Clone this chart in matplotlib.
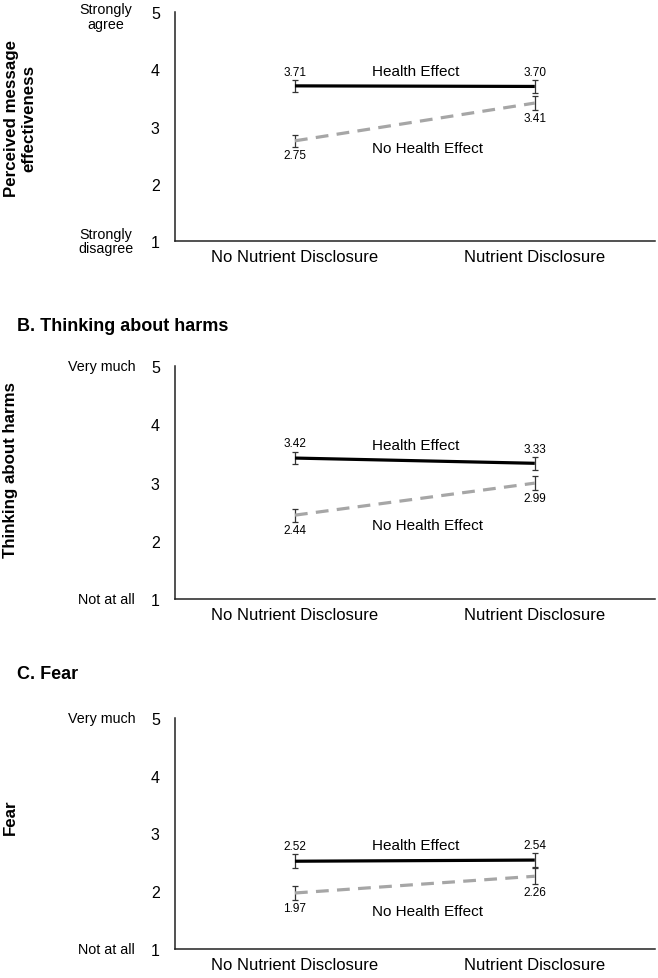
import matplotlib.pyplot as plt
from matplotlib.transforms import blended_transform_factory

plt.rcParams['font.family'] = ['Liberation Sans', 'DejaVu Sans']

categories = ["No Nutrient Disclosure", "Nutrient Disclosure"]
series_names = ["Health Effect", "No Health Effect"]

panel_titles = ["", "B. Thinking about harms", "C. Fear"]
y_labels = ["Perceived message\neffectiveness", "Thinking about harms", "Fear"]
top_anchors = ["Strongly\nagree", "Very much", "Very much"]
bottom_anchors = ["Strongly\ndisagree", "Not at all", "Not at all"]
y_ticks = [1, 2, 3, 4, 5]

health = [[3.71, 3.70], [3.42, 3.33], [2.52, 2.54]]
health_err = [[0.10, 0.11], [0.11, 0.11], [0.12, 0.115]]
no_health = [[2.75, 3.41], [2.44, 2.99], [1.97, 2.26]]
no_health_err = [[0.11, 0.12], [0.11, 0.12], [0.115, 0.135]]

# axes boxes in figure fractions (left, bottom, width, height)
boxes = [
    (0.266, 0.7528, 0.729, 0.2339),
    (0.266, 0.3871, 0.729, 0.2380),
    (0.266, 0.0296, 0.729, 0.2360),
]
ylabel_pos = [(-0.29, 0.54), (-0.327, 0.56), (-0.327, 0.575)]
title_y = [None, 0.666, 0.311]

fig = plt.figure(figsize=(6.58, 9.79), dpi=100)

for i in range(3):
    ax = fig.add_axes(boxes[i])
    x = [0, 1]

    ax.errorbar(x, health[i], yerr=health_err[i], fmt='none', ecolor='#333333',
                elinewidth=0.9, capsize=2.3, capthick=0.9, zorder=2)
    ax.errorbar(x, no_health[i], yerr=no_health_err[i], fmt='none', ecolor='#333333',
                elinewidth=0.9, capsize=2.3, capthick=0.9, zorder=2)
    ax.plot(x, health[i], color='black', lw=2.3, solid_capstyle='butt', zorder=3)
    ax.plot(x, no_health[i], color='#a6a6a6', lw=2.3, dashes=(4, 2.6), zorder=3)

    for j in range(2):
        ax.text(x[j], health[i][j] + health_err[i][j] + 0.04, f"{health[i][j]:.2f}",
                ha='center', va='bottom', fontsize=8.5)
        ax.text(x[j], no_health[i][j] - no_health_err[i][j] - 0.04, f"{no_health[i][j]:.2f}",
                ha='center', va='top', fontsize=8.5)

    ax.text(0.32, sum(health[i]) / 2 + 0.27, series_names[0], ha='left', va='center', fontsize=11)
    ax.text(0.32, sum(no_health[i]) / 2 - 0.45, series_names[1], ha='left', va='center', fontsize=11)

    ax.set_xlim(-0.5, 1.5)
    ax.set_ylim(1, 5)
    ax.set_xticks(x)
    ax.set_xticklabels(categories, fontsize=12)
    ax.set_yticks(y_ticks)
    ax.set_yticklabels([str(t) for t in y_ticks], fontsize=11.5)
    ax.tick_params(axis='both', length=0)
    ax.tick_params(axis='y', pad=11)
    ax.tick_params(axis='x', pad=6)
    for s in ['top', 'right']:
        ax.spines[s].set_visible(False)
    for s in ['left', 'bottom']:
        ax.spines[s].set_linewidth(1.1)
        ax.spines[s].set_color('#222222')

    trans = blended_transform_factory(ax.transAxes, ax.transData)
    if i == 0:
        ax.text(-0.144, 4.92, top_anchors[i], transform=trans, ha='center', va='center',
                fontsize=10.3, multialignment='center', linespacing=1.05)
        ax.text(-0.144, 1, bottom_anchors[i], transform=trans, ha='center', va='center',
                fontsize=10.3, multialignment='center', linespacing=1.05)
    else:
        ax.text(-0.083, 5, top_anchors[i], transform=trans, ha='right', va='center', fontsize=10.3)
        ax.text(-0.083, 1, bottom_anchors[i], transform=trans, ha='right', va='center', fontsize=10.3)

    ax.set_ylabel(y_labels[i], fontsize=12.2, fontweight='bold', linespacing=1.15)
    ax.yaxis.set_label_coords(*ylabel_pos[i])

    if panel_titles[i]:
        fig.text(0.026, title_y[i], panel_titles[i], fontsize=13, fontweight='bold',
                 ha='left', va='center')

fig.savefig("out.png", dpi=100)
